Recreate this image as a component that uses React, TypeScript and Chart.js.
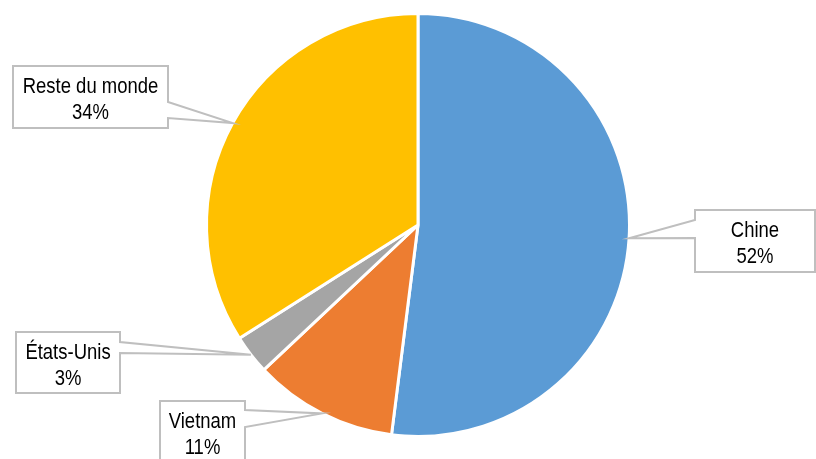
import React, { useEffect, useRef } from "react";
import { Chart, registerables } from "chart.js";

Chart.register(...registerables);

const categories = ["Chine", "Vietnam", "États-Unis", "Reste du monde"];
const shares = [52, 11, 3, 34];
const percentLabels = ["52%", "11%", "3%", "34%"];
const colors = ["#5B9BD5", "#ED7D31", "#A5A5A5", "#FFC000"];

// callout box layout (position of annotation boxes), pointer side and gap on that side
const callouts = [
  { x: 695, y: 210, w: 120, h: 62, side: "left", g1: 220, g2: 238 },
  { x: 160, y: 401, w: 85, h: 70, side: "right", g1: 410, g2: 427 },
  { x: 16, y: 332, w: 104, h: 61, side: "right", g1: 342, g2: 353 },
  { x: 13, y: 66, w: 155, h: 62, side: "right", g1: 102, g2: 118 },
];

const FONT = '"Liberation Sans", Arial, sans-serif';
const SCALE_X = 0.84;

const calloutPlugin = {
  id: "callouts",
  afterDraw(chart: any) {
    const ctx = chart.ctx;
    const meta = chart.getDatasetMeta(0);
    meta.data.forEach((arc: any, i: number) => {
      const { x: cx, y: cy, startAngle, endAngle, outerRadius } = arc.getProps(
        ["x", "y", "startAngle", "endAngle", "outerRadius"],
        true
      );
      const mid = (startAngle + endAngle) / 2;
      const ax = cx + Math.cos(mid) * outerRadius;
      const ay = cy + Math.sin(mid) * outerRadius;
      const c = callouts[i];
      ctx.save();
      ctx.beginPath();
      if (c.side === "right") {
        const ex = c.x + c.w;
        ctx.moveTo(c.x, c.y);
        ctx.lineTo(ex, c.y);
        ctx.lineTo(ex, c.g1);
        ctx.lineTo(ax, ay);
        ctx.lineTo(ex, c.g2);
        ctx.lineTo(ex, c.y + c.h);
        ctx.lineTo(c.x, c.y + c.h);
      } else {
        ctx.moveTo(c.x, c.y);
        ctx.lineTo(c.x + c.w, c.y);
        ctx.lineTo(c.x + c.w, c.y + c.h);
        ctx.lineTo(c.x, c.y + c.h);
        ctx.lineTo(c.x, c.g2);
        ctx.lineTo(ax, ay);
        ctx.lineTo(c.x, c.g1);
      }
      ctx.closePath();
      ctx.fillStyle = "#ffffff";
      ctx.fill();
      ctx.lineWidth = 2;
      ctx.strokeStyle = "#BFBFBF";
      ctx.lineJoin = "miter";
      ctx.stroke();
      ctx.fillStyle = "#000000";
      ctx.font = `22px ${FONT}`;
      ctx.textAlign = "center";
      ctx.textBaseline = "alphabetic";
      const tx = c.x + c.w / 2;
      ctx.translate(tx, 0);
      ctx.scale(SCALE_X, 1);
      ctx.fillText(categories[i], 0, c.y + 27);
      ctx.fillText(percentLabels[i], 0, c.y + 52.5);
      ctx.restore();
    });
  },
};

export default function App() {
  const ref = useRef<HTMLCanvasElement>(null);
  useEffect(() => {
    const chart = new Chart(ref.current as HTMLCanvasElement, {
      type: "pie",
      data: {
        labels: categories,
        datasets: [
          {
            data: shares,
            backgroundColor: colors,
            borderColor: "#ffffff",
            borderWidth: 3,
            radius: 211.5,
          } as any,
        ],
      },
      options: {
        responsive: false,
        animation: false,
        layout: { padding: { left: 206, right: 186, top: 13, bottom: 22 } },
        plugins: {
          legend: { display: false },
          tooltip: { enabled: false },
        },
      },
      plugins: [calloutPlugin],
    });
    return () => chart.destroy();
  }, []);
  return (
    <div style={{ position: "absolute", left: 0, top: 0, width: 816, height: 459, background: "#fff" }}>
      <canvas ref={ref} width={816} height={459} />
    </div>
  );
}
